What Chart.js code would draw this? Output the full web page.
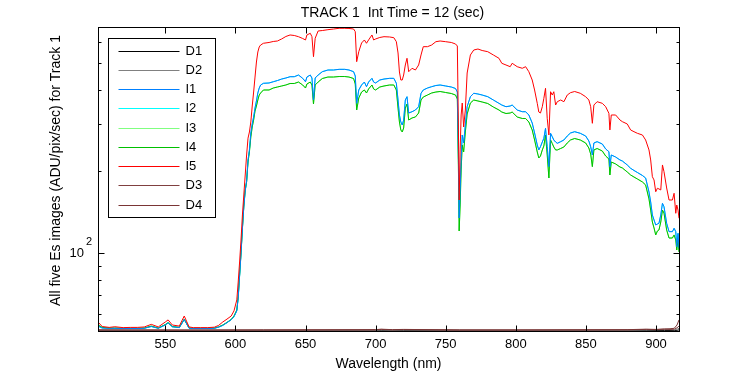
<!DOCTYPE html>
<html>
<head>
<meta charset="utf-8">
<title>TRACK 1 Es images</title>
<script src="https://cdn.jsdelivr.net/npm/chart.js@4.4.0/dist/chart.umd.min.js"></script>
<style>
  html, body { margin: 0; padding: 0; background: #fff; }
</style>
</head>
<body>
<canvas id="esChart" width="750" height="375"></canvas>
<script>
// Wavelength grid (nm) shared by the five image series
const wavelength = [
  502, 505, 510, 514, 520, 525, 530, 535, 540, 545, 550, 552, 555, 560, 563.5, 567, 570, 575, 580, 585, 588, 591, 594, 597,
  599, 601, 602, 603, 604, 605, 606, 607, 608, 609, 610, 611, 612, 613, 614, 615, 616, 617, 618, 620,
  624, 627, 630, 633, 636, 639, 642, 645, 648, 650, 651, 653.4, 654.6, 655.7, 656.9, 659, 662, 666, 670, 674, 678, 681,
  684.3, 685.5, 686.5, 688, 690, 692, 693.5, 695, 697.4, 698.6, 700,
  703, 706, 710, 713, 714.8, 716, 717, 718, 719, 720, 721.2, 722.4, 723.6, 726, 728.4, 730.7, 732.4, 734, 737, 740, 743,
  746, 750, 754, 757, 758.3,
  759, 759.6, 760.3, 761, 761.8, 762.8, 764, 765.3, 767.6, 770, 773, 776, 780, 784, 788,
  790, 793, 796, 797.4, 801, 804.6, 807, 809.3, 811.7, 813.4, 815.3, 816.4, 817.6, 818.9, 820, 821.2, 822.4, 823.6,
  824.8, 826, 827.1, 828.4, 829.6, 832, 834.3, 836.7, 839,
  842, 846, 849.8, 852.1, 853.4, 854.6, 855.7, 858, 861.7, 864.1, 866.4, 867.1, 868.1, 871.2, 874.3, 876, 879.5, 881.9,
  884.3, 886.7, 890.3, 892.6, 895, 896.2, 897.4, 898.6, 899.8, 901, 902.1, 903.4, 904.6, 905.7, 907.6, 909.3, 911.7,
  912.9, 914.1, 914.8, 915.7, 916.4
];

// I5 (red)
const i5Values = [
  55.9, 53.8, 53.4, 53.7, 53.3, 53.4, 53.4, 53.6, 54.8, 53.6, 55.9, 56.9, 54.5, 54.0, 58.8, 53.6, 53.3, 53.3, 53.3, 53.5, 54.3, 55.9, 57.3, 58.8,
  61.4, 67.4, 78.4, 92.9, 111.9, 138.3, 163.8, 194, 229.8, 265, 279.2, 303.9, 347.9, 391.6, 444.6, 504.9, 549.5, 573.4, 583.1, 591.6,
  595.6, 600.7, 603.2, 613.6, 626.6, 634.7, 631.9, 625.5, 616.1, 608.4, 634.7, 643.8, 625.5, 528.1, 617.2, 656.5, 659, 663.8, 667.6, 671.6, 671.6, 670.6,
  667.6, 652.6, 506.2, 550.9, 593.1, 608.4, 591.6, 608.4, 634.7, 608.4, 613.6,
  621.4, 625.5, 624, 620.3, 599.6, 544.9, 463.9, 433.5, 433.5, 452.2, 492.3, 521, 465.1, 478.7, 471.8, 492.3, 535.8, 574.8, 574.8, 583.1, 599.6,
  603.2, 599.6, 595.6, 588.1, 578.1,
  309, 157, 239.8, 322.4, 356.8, 291.3, 336.3, 460, 535.8, 558.8, 563.6, 556.5, 550.9, 535.8, 521,
  499.4, 492.3, 485.2, 499.4, 485.2, 478.7, 485.2, 465.1, 433.5, 398.4, 355.9, 330.6, 327.8, 345.8, 371.3, 404.1, 313.6, 272.2,
  392.6, 381.8, 392.6, 350.8, 360.8, 366, 360.8, 381.8, 389.4,
  393.3, 387.4, 376.4, 366, 345.8, 300.5, 350.8, 360.8, 355.9, 345.8, 327, 284, 322.4, 322.4, 309, 304.7, 298.8, 284,
  279.9, 276.1, 272.2, 260.9, 239.8, 220.3, 191.2, 186, 168.4, 173.4, 172.4, 170.9, 211.2, 199.5, 173.8, 157, 157,
  166.2, 140.3, 150.5, 144.2, 134.5
];

// I1 (blue); I2 (cyan) lies on top of it
const i1Values = [
  54.0, 53.1, 53.0, 53.0, 52.9, 52.9, 52.9, 53.0, 53.8, 53.0, 54.5, 55.5, 53.7, 53.3, 57.1, 53.0, 52.9, 52.9, 52.9, 53.0, 53.5, 54.3, 55.6, 57.0,
  58.5, 61.4, 68.5, 82.5, 99.4, 122.8, 148, 169.4, 184.4, 220.3, 239.8, 276.8, 298.8, 317, 342, 363, 388.4, 405.1, 415.6, 421.6,
  422.7, 427.2, 431.6, 437.1, 440.9, 445.8, 445.8, 452.2, 439.7, 427.2, 444.6, 452.2, 440.9, 366, 440.9, 452.2, 465.1, 471.8, 471.8, 474.5, 474.5, 471.8,
  465.1, 448.4, 355.9, 398.4, 415.6, 426.1, 409.7, 426.1, 439.7, 426.1, 422.7,
  433.5, 437.1, 439.7, 439.7, 421.6, 366, 322.4, 303.9, 296.2, 309, 366, 376.4, 327.8, 331.5, 336.3, 345.8, 387.4, 398.4, 405.1, 409.7, 413.8,
  415.6, 412.1, 408.6, 403.5, 391.6,
  239.8, 134.8, 170.9, 220.3, 272.2, 254.4, 296.2, 345.8, 376.4, 387.4, 385.1, 381.8, 376.4, 366, 355.9,
  350.8, 345.8, 347.9, 350.8, 336.3, 331.5, 331.5, 322.4, 301.3, 276.8, 250.1, 239.8, 246.5, 256.5, 264.7, 288.1, 246.5, 208.2,
  276.1, 268.3, 260.9, 256.5, 253.7, 257.2, 260.9, 269.9, 276.8,
  279.9, 276.1, 269.9, 258.7, 246.5, 229.8, 254.4, 257.2, 252.2, 241.8, 236.3, 208.2, 229.8, 225.9, 220.3, 218.4, 211.2, 205.3,
  201.6, 198.2, 193.2, 189.1, 168, 154.4, 138.3, 132.6, 127.1, 128.1, 128.9, 138.3, 152.7, 148.3, 128.9, 120.1, 120.1,
  123.6, 120.1, 105.7, 118.4, 104.3
];

// I4 (green); I3 (light green) lies on top of it
const i4Values = [
  54.5, 53.4, 53.1, 53.1, 53.0, 53.0, 53.0, 53.1, 54.0, 53.1, 54.7, 55.6, 53.8, 53.4, 57.2, 53.1, 53.0, 53.0, 53.0, 53.1, 53.6, 54.5, 55.7, 57.1,
  58.8, 61.9, 69.1, 83.2, 100.3, 123.9, 149.2, 170.9, 182.9, 216.6, 235.7, 267.6, 291.3, 309, 333.5, 347.9, 366, 381.8, 388.4, 398.4,
  398.4, 405.1, 408.6, 412.1, 415.6, 420.9, 420.9, 426.1, 415.6, 405.1, 419.1, 426.1, 415.6, 353.8, 415.6, 426.1, 439, 444.6, 444.6, 446.5, 446.5, 444.6,
  439, 419.1, 336.3, 372.3, 391.6, 398.4, 388.4, 401.8, 415.6, 401.8, 398.4,
  408.6, 412.1, 415.6, 415.6, 398.4, 342, 303.9, 284, 279.2, 288.8, 342, 353.8, 309, 314.4, 317, 327.8, 366, 375.4, 381.8, 388.4, 391.6,
  393.3, 390, 386.7, 381.8, 369.1,
  220.3, 120.8, 150.5, 202.4, 250.1, 235.7, 279.2, 325.1, 356.8, 366, 363, 359.9, 355.3, 344.9, 336.3,
  330.6, 326.5, 327.8, 330.6, 317, 313, 313, 303.9, 284, 260.9, 235.7, 224, 227.8, 239.8, 248, 272.2, 229.8, 189.1,
  260.9, 253.3, 245.9, 239.8, 239.8, 242.8, 245.9, 254.4, 260.9,
  264.2, 260.9, 254.4, 243.8, 231.7, 208.2, 239.8, 242.8, 237.7, 227.8, 222.1, 194, 216.6, 213, 207.6, 205.9, 199, 194,
  190.7, 187.6, 182.9, 178.3, 158.4, 144.2, 130.3, 123.9, 116.8, 120.8, 121.8, 130.3, 144.2, 140.6, 121.8, 113.8, 113.8,
  116.8, 111.9, 102.8, 111.9, 101.1
];

// dark frames sit on the floor of the plot
const darkWavelength = [502, 560, 620, 700, 704, 712, 720, 760, 800, 880, 893, 900, 906, 910, 913, 915, 916.4];
const d1Values = [52.0, 52.0, 52.0, 52.0, 52.0, 52.0, 52.0, 52.0, 52.0, 52.0, 52.0, 52.0, 52.0, 52.0, 52.0, 52.1, 52.3];
const d2Values = [52.1, 52.1, 52.1, 52.1, 52.2, 52.1, 52.2, 52.1, 52.1, 52.1, 52.2, 52.3, 52.4, 52.4, 52.3, 52.6, 53.0];
const d3Values = [52.2, 52.2, 52.2, 52.3, 52.5, 52.3, 52.4, 52.2, 52.2, 52.3, 52.5, 52.4, 52.6, 52.5, 52.6, 53.2, 54.0];
const d4Values = [52.3, 52.2, 52.3, 52.4, 52.6, 52.4, 52.5, 52.3, 52.3, 52.4, 52.6, 52.5, 52.7, 52.8, 53.0, 54.5, 56.9];

const xTicks = [550, 600, 650, 700, 750, 800, 850, 900];
const yTicks = [60, 70, 80, 90, 100, 200, 300, 400, 500, 600];

const titleText = 'TRACK 1  Int Time = 12 (sec)';
const yTitleText = 'All five Es images (ADU/pix/sec) for Track 1';
const FONT = '"Liberation Sans", Arial, Helvetica, sans-serif';

function pts(xs, ys) {
    return xs.map((x, i) => ({ x: x, y: ys[i] }));
}

// legend order follows the plot order; "order" makes later series draw on top
const datasets = [
    { label: 'D1', data: pts(darkWavelength, d1Values), borderColor: '#000000', order: 8 },
    { label: 'D2', data: pts(darkWavelength, d2Values), borderColor: '#808080', order: 7 },
    { label: 'I1', data: pts(wavelength, i1Values), borderColor: '#0080ff', order: 1 },
    { label: 'I2', data: pts(wavelength, i1Values), borderColor: '#00ffff', order: 3 },
    { label: 'I3', data: pts(wavelength, i4Values), borderColor: '#80ff80', order: 4 },
    { label: 'I4', data: pts(wavelength, i4Values), borderColor: '#00c000', order: 2 },
    { label: 'I5', data: pts(wavelength, i5Values), borderColor: '#ff0000', order: 0 },
    { label: 'D3', data: pts(darkWavelength, d3Values), borderColor: '#804040', order: 6 },
    { label: 'D4', data: pts(darkWavelength, d4Values), borderColor: '#7a3535', order: 5 }
];

// box, inward ticks, superscript, titles and legend drawn like the original figure
const matlabFrame = {
    id: 'matlabFrame',
    afterDraw(chart) {
        const ctx = chart.ctx;
        const area = chart.chartArea;
        const xs = chart.scales.x, ys = chart.scales.y;
        const l = Math.round(area.left) + 0.5, r = Math.round(area.right) + 0.5;
        const t = Math.round(area.top) + 0.5, b = Math.round(area.bottom) + 0.5;

        ctx.save();
        ctx.strokeStyle = '#000';
        ctx.lineWidth = 1;
        ctx.strokeRect(l, t, r - l, b - t);

        ctx.beginPath();
        xTicks.forEach(v => {
            const px = Math.round(xs.getPixelForValue(v)) + 0.5;
            ctx.moveTo(px, b); ctx.lineTo(px, b - 6);
            ctx.moveTo(px, t); ctx.lineTo(px, t + 6);
        });
        yTicks.forEach(v => {
            const py = Math.round(ys.getPixelForValue(v)) + 0.5;
            const len = v === 100 ? 6 : 3;
            ctx.moveTo(l, py); ctx.lineTo(l + len, py);
            ctx.moveTo(r, py); ctx.lineTo(r - len, py);
        });
        ctx.stroke();

        ctx.fillStyle = '#000';
        ctx.font = '11px ' + FONT;
        ctx.textAlign = 'left';
        ctx.textBaseline = 'middle';
        ctx.fillText('2', area.left - 12, ys.getPixelForValue(100) - 11);

        ctx.font = '14px ' + FONT;
        ctx.textAlign = 'center';
        ctx.fillText(titleText, (area.left + area.right) / 2 + 4, 13);

        // y label sits a little above the axis centre, as in the figure
        ctx.save();
        ctx.translate(56, (area.top + area.bottom) / 2 - 8.5);
        ctx.rotate(-Math.PI / 2);
        ctx.fillText(yTitleText, 0, 0);
        ctx.restore();

        // legend box
        const bx = Math.round(area.left) + 10.5, by = Math.round(area.top) + 11.5;
        const bw = 107, bh = 179;
        ctx.font = '13px ' + FONT;
        ctx.fillStyle = '#fff';
        ctx.fillRect(bx, by, bw, bh);
        ctx.strokeStyle = '#000';
        ctx.strokeRect(bx, by, bw, bh);
        ctx.textAlign = 'left';
        chart.data.datasets.forEach((ds, i) => {
            const ly = Math.round(by + 12 + i * 19.25) + 0.5;
            ctx.strokeStyle = ds.borderColor;
            ctx.beginPath();
            ctx.moveTo(bx + 10, ly);
            ctx.lineTo(bx + 71, ly);
            ctx.stroke();
            ctx.fillStyle = '#000';
            ctx.fillText(ds.label, bx + 77, ly);
        });
        ctx.restore();
    }
};

Chart.defaults.font.family = FONT;
Chart.defaults.font.size = 13;
Chart.defaults.color = '#000';

new Chart(document.getElementById('esChart'), {
    type: 'line',
    data: { datasets: datasets },
    options: {
        responsive: false,
        animation: false,
        devicePixelRatio: 1,
        events: [],
        layout: { padding: { left: 44, right: 71, top: 27, bottom: 0 } },
        elements: {
            point: { radius: 0 },
            line: { borderWidth: 1, tension: 0, fill: false }
        },
        plugins: {
            legend: { display: false },
            title: { display: false },
            tooltip: { enabled: false }
        },
        scales: {
            x: {
                type: 'linear',
                min: 502,
                max: 916.4,
                afterBuildTicks: s => { s.ticks = xTicks.map(v => ({ value: v })); },
                afterFit: s => { s.height = 44; },
                grid: { display: false, drawTicks: false },
                border: { display: false },
                ticks: { padding: 6, maxRotation: 0, autoSkip: false, color: '#000' },
                title: { display: true, text: 'Wavelength (nm)', color: '#000', font: { size: 14 }, padding: { top: 0, bottom: 2 } }
            },
            y: {
                type: 'logarithmic',
                min: 51.8,
                max: 679,
                afterBuildTicks: s => { s.ticks = yTicks.map(v => ({ value: v })); },
                afterFit: s => { s.width = 54; },
                grid: { display: false, drawTicks: false },
                border: { display: false },
                ticks: { padding: 14, autoSkip: false, color: '#000', callback: v => (v === 100 ? '10' : '') }
            }
        }
    },
    plugins: [matlabFrame]
});
</script>
</body>
</html>
